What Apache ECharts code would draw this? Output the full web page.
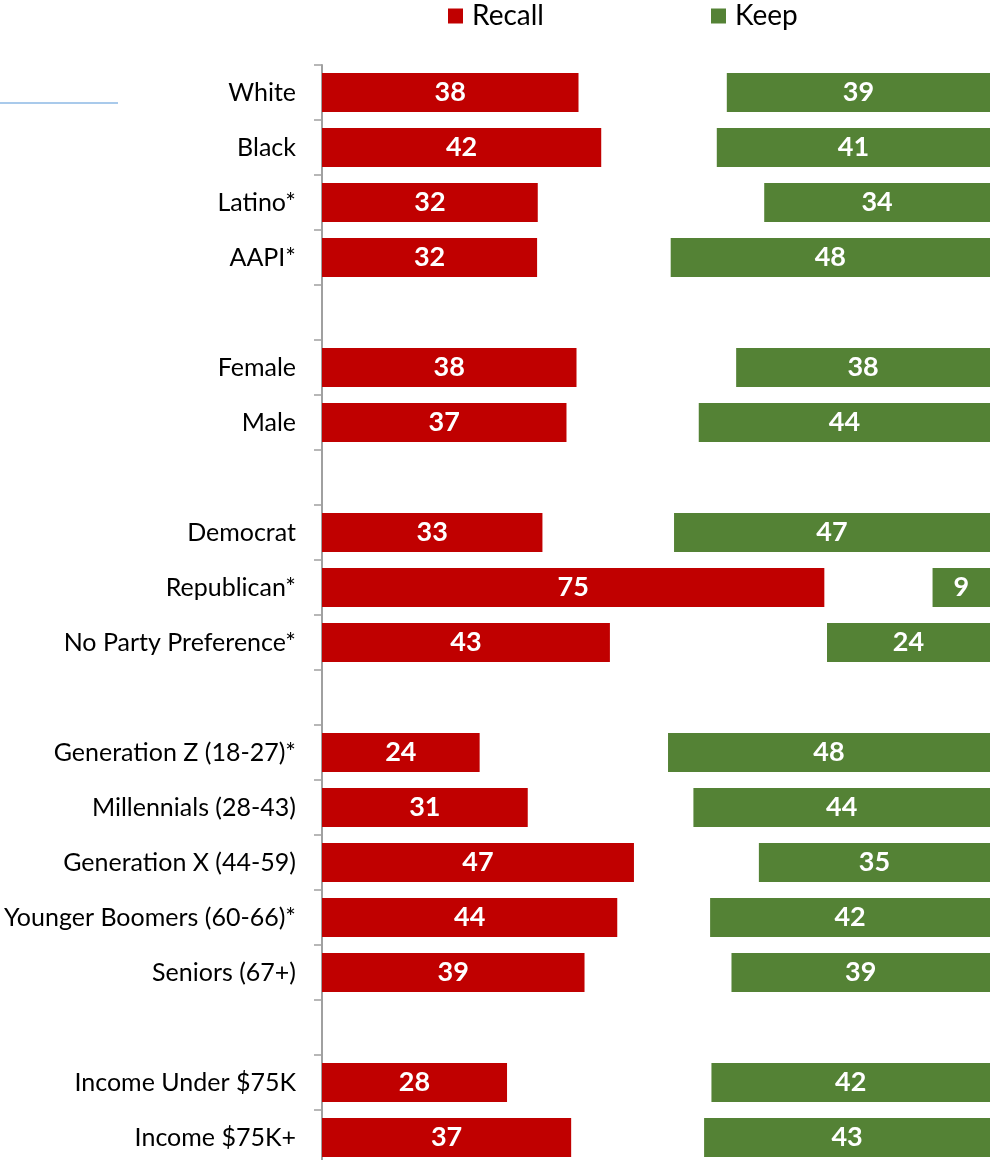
<!DOCTYPE html>
<html>
<head>
<meta charset="utf-8">
<script src="https://cdn.jsdelivr.net/npm/echarts@6/dist/echarts.min.js"></script>
<style>
html,body{margin:0;padding:0;background:#fff;}
#chart{width:991px;height:1160px;}
</style>
</head>
<body>
<div id="chart"></div>
<script>
var categories = ['White','Black','Latino*','AAPI*','','Female','Male','','Democrat','Republican*','No Party Preference*','','Generation Z (18-27)*','Millennials (28-43)','Generation X (44-59)','Younger Boomers (60-66)*','Seniors (67+)','','Income Under $75K','Income $75K+'];
var recall = [38.4, 41.8, 32.3, 32.2, null, 38.1, 36.6, null, 33.0, 75.2, 43.1, null, 23.6, 30.8, 46.7, 44.2, 39.3, null, 27.7, 37.3];
var keep = [39.4, 40.9, 33.8, 47.8, null, 38.0, 43.6, null, 47.3, 8.6, 24.4, null, 48.2, 44.4, 34.6, 41.9, 38.7, null, 41.7, 42.8];
var axisMax = 100;

var spacer = recall.map(function (r, i) {
  return (r == null || keep[i] == null) ? null : axisMax - r - keep[i];
});

var chart = echarts.init(document.getElementById('chart'));
var labelStyle = {
  show: true,
  position: 'inside',
  color: '#ffffff',
  fontFamily: 'Lato',
  fontWeight: 'bold',
  fontSize: 27,
  formatter: function (p) { return Math.round(p.value); }
};
var legendText = { fontFamily: 'Lato', fontSize: 28, color: '#000', padding: [0, 0, 0, 4] };

chart.setOption({
  animation: false,
  backgroundColor: '#ffffff',
  legend: [
    { data: ['Recall'], left: 448, top: 2, padding: 0, icon: 'rect', itemWidth: 15, itemHeight: 15, textStyle: legendText, selectedMode: false },
    { data: ['Keep'], left: 711, top: 2, padding: 0, icon: 'rect', itemWidth: 15, itemHeight: 15, textStyle: legendText, selectedMode: false }
  ],
  graphic: [{
    type: 'line',
    shape: { x1: 0, y1: 103, x2: 118, y2: 103 },
    style: { stroke: '#8DB8E4', lineWidth: 1.5 },
    silent: true
  }],
  grid: { left: 322, right: 1, top: 65, height: 1100, containLabel: false, outerBoundsMode: 'none' },
  xAxis: {
    type: 'value', min: 0, max: axisMax, show: false
  },
  yAxis: {
    type: 'category',
    data: categories,
    inverse: true,
    axisLine: { show: true, lineStyle: { color: '#A0A0A0', width: 2 } },
    axisTick: { show: true, length: 8, lineStyle: { color: '#A0A0A0', width: 1.5 } },
    axisLabel: { margin: 26, color: '#000', fontFamily: 'Lato', fontSize: 25 },
    splitLine: { show: false }
  },
  series: [
    {
      name: 'Recall', type: 'bar', stack: 'all', data: recall,
      barCategoryGap: '29%',
      itemStyle: { color: '#C00000' },
      label: labelStyle
    },
    {
      name: 'gap', type: 'bar', stack: 'all', data: spacer,
      itemStyle: { color: 'rgba(0,0,0,0)' },
      label: { show: false }, silent: true, emphasis: { disabled: true }, tooltip: { show: false }
    },
    {
      name: 'Keep', type: 'bar', stack: 'all', data: keep,
      itemStyle: { color: '#548235' },
      label: labelStyle
    }
  ]
});
</script>
</body>
</html>
